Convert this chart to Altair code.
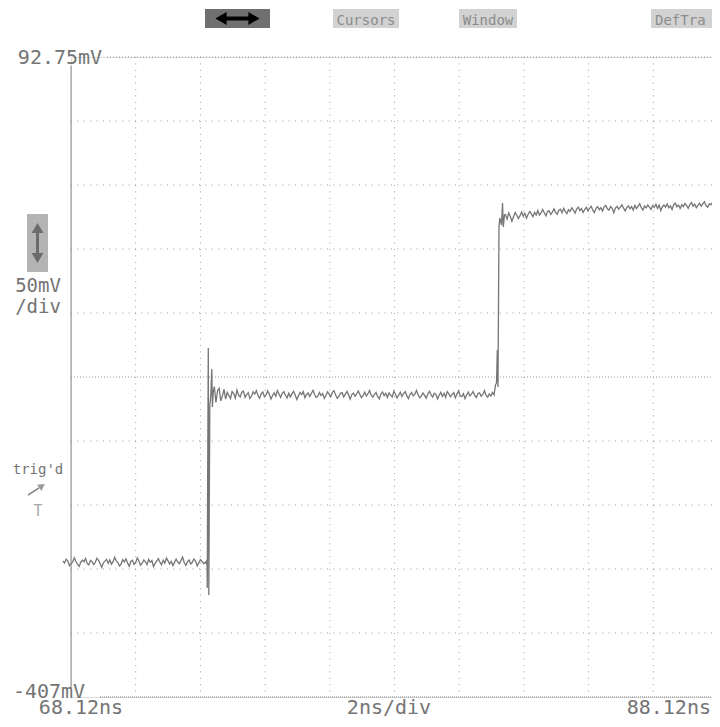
import altair as alt
import numpy as np
import pandas as pd

# ---------------- data ----------------
t_min, t_max = 68.12, 88.12          # ns, screen edges
v_min, v_max = -407.25, 92.75        # mV, screen edges (50 mV/div)
div_times = [70.12, 72.12, 74.12, 76.12, 78.12, 80.12, 82.12, 84.12, 86.12, 88.12]
div_volts = [42.75, -7.25, -57.25, -107.25, -207.25, -257.25, -307.25, -357.25]
center_volt = [-157.25]
top_volt = [92.75]
bottom_volt = [-407.25]

sample_dt = 0.05  # ns

# low level (starts slightly left of the screen edge)
low_t0 = 67.87
low_v = [-301.0, -302.6, -299.5, -300.8, -304.7, -303.1, -301.9, -298.4, -301.2, -303.5,
         -305.2, -302.0, -300.3, -301.7, -299.0, -302.9, -304.1, -300.6, -301.4, -303.8,
         -302.2, -298.9, -300.5, -303.0, -306.0, -302.4, -301.1, -299.7, -302.8, -300.2,
         -303.6, -301.5, -298.1, -300.9, -302.3, -304.9, -303.2, -300.0, -301.8, -299.3,
         -302.5, -305.1, -301.3, -300.4, -303.7, -302.1, -298.6, -301.0, -304.3, -302.7,
         -300.1, -301.6, -303.9, -299.8, -302.0, -300.7, -305.5, -302.9, -301.2, -299.1,
         -301.9, -304.0, -300.3, -302.6, -298.7, -300.9, -303.3, -301.4, -304.6, -302.1,
         -299.6, -301.8, -303.0, -300.5, -297.9, -302.2, -304.4, -301.7, -300.2, -303.4,
         -302.0, -299.4, -301.1, -304.8, -302.5, -300.0, -301.3, -303.1, -301.8]

edge1_t = [72.293, 72.324, 72.333, 72.343, 72.364, 72.380, 72.411, 72.442, 72.472, 72.491, 72.516]
edge1_v = [-302.6, -300.2, -322.1, -243.2, -134.6, -327.6, -179.1, -171.3, -151.0, -180.7, -169.0]

mid_t0 = 72.55
mid_v = [-164.8, -177.2, -168.0, -166.1, -175.9, -172.0, -167.0, -174.6, -169.3, -171.8,
         -174.0, -168.6, -170.2, -173.7, -167.5, -171.4, -172.9, -169.1, -168.3, -173.2,
         -171.0, -169.5, -174.1, -172.3, -168.9, -170.6, -167.9, -171.7, -173.8, -170.3,
         -169.0, -172.6, -171.2, -168.1, -170.8, -174.5, -171.9, -169.6, -172.2, -167.8,
         -170.5, -173.1, -170.0, -168.7, -171.5, -173.6, -169.9, -172.8, -170.4, -168.4,
         -171.3, -174.8, -172.0, -169.3, -170.9, -168.6, -173.4, -171.1, -169.7, -172.5,
         -170.1, -167.6, -171.0, -173.3, -172.1, -169.4, -171.8, -170.2, -174.0, -171.6,
         -168.8, -170.7, -172.7, -169.2, -167.9, -171.4, -173.9, -172.4, -170.0, -169.5,
         -172.9, -170.6, -168.5, -171.2, -174.6, -171.0, -169.8, -172.3, -170.4, -168.2,
         -170.9, -173.5, -171.7, -169.0, -172.1, -170.3, -167.7, -171.5, -173.0, -170.8,
         -169.3, -172.6, -174.3, -170.5, -168.9, -171.9, -170.1, -173.2, -169.6, -171.4,
         -172.8, -168.3, -170.7, -173.7, -171.3, -169.1, -172.4, -170.2, -168.6, -171.8,
         -174.1, -170.9, -169.4, -172.0, -170.6, -167.8, -171.1, -173.4, -172.2, -169.7,
         -171.6, -173.8, -170.3, -168.4, -171.2, -172.9, -169.9, -170.8, -174.4, -171.5,
         -169.2, -172.5, -170.0, -173.1, -168.7, -170.4, -172.7, -171.0, -169.5, -173.6,
         -170.6, -168.1, -171.9, -172.6, -170.2, -174.2, -171.3, -169.0, -172.0, -170.7,
         -168.5, -171.7, -173.3, -170.1, -169.6, -172.3, -170.9, -167.9, -171.4, -173.0,
         -170.5, -172.1, -169.3, -171.2]

edge2_t = [81.211, 81.242, 81.273, 81.298, 81.319, 81.350, 81.375, 81.428, 81.459, 81.483, 81.520]
edge2_v = [-169.0, -163.5, -161.9, -136.2, -165.1, -39.3, -33.0, -38.5, -21.3, -40.1, -30.7]

high_t0 = 81.55
high_v = [-30.4, -33.9, -29.0, -31.8, -35.6, -32.1, -28.7, -30.9, -33.5, -31.2,
          -28.3, -31.6, -29.4, -33.2, -30.1, -27.9, -29.8, -32.0, -28.6, -30.7,
          -27.2, -30.8, -29.1, -26.4, -28.9, -31.4, -28.0, -27.5, -30.2, -28.4,
          -25.9, -28.7, -30.1, -27.0, -26.1, -28.9, -25.4, -27.8, -29.6, -26.6,
          -27.9, -25.1, -26.8, -29.3, -26.0, -24.5, -27.2, -25.8, -28.7, -26.4,
          -24.6, -27.4, -25.3, -23.8, -26.9, -28.8, -25.5, -24.2, -26.6, -25.0,
          -27.6, -24.4, -23.1, -25.8, -26.9, -24.0, -25.5, -29.0, -25.2, -23.9,
          -26.1, -24.6, -22.7, -25.3, -27.4, -24.9, -23.5, -25.9, -24.1, -27.0,
          -23.2, -25.6, -24.0, -21.9, -24.9, -26.8, -23.7, -25.1, -22.8, -24.5,
          -26.3, -23.4, -24.8, -22.3, -25.5, -23.1, -27.2, -24.2, -22.9, -24.7,
          -22.1, -25.0, -23.6, -26.4, -22.8, -21.5, -24.3, -23.0, -25.6, -22.6,
          -24.1, -21.7, -23.3, -25.4, -22.5, -20.9, -23.8, -22.2, -25.0, -23.1,
          -21.4, -23.9, -22.0, -20.4, -23.2, -24.6, -21.8, -22.7, -20.9, -23.5,
          -22.3, -21.0, -23.4]

# text
y_top_label, y_bottom_label = "92.75mV", "-407mV"
x_labels = ["68.12ns", "2ns/div", "88.12ns"]
scale_labels = ["50mV", "/div"]
trig_labels = ["trig'd", "T"]
menu_labels = ["Cursors", "Window", "DefTra"]

# ---------------- assemble trace ----------------
def sampled(t0, vals):
    return list(np.round(t0 + sample_dt * np.arange(len(vals)), 3))

trace = pd.DataFrame({
    "t": sampled(low_t0, low_v) + edge1_t + sampled(mid_t0, mid_v) + edge2_t + sampled(high_t0, high_v),
    "v": low_v + edge1_v + mid_v + edge2_v + high_v,
})

SCREEN_W = 647          # full 10-division screen width in px
W, H = 641, 640         # visible view (page is only 704 px wide inside its margins)
xs = alt.Scale(domain=[t_min, t_max], range=[0, SCREEN_W], zero=False, nice=False)
ys = alt.Scale(domain=[v_min, v_max], zero=False, nice=False)
one = pd.DataFrame({"d": [0]})
FONT = "DejaVu Sans Mono"
TXT = "#747474"
GRID = "#9a9a9a"

def X(f):
    return alt.X(f, type="quantitative", scale=xs, axis=None)

def Y(f):
    return alt.Y(f, type="quantitative", scale=ys, axis=None)

vgrid = alt.Chart(pd.DataFrame({"t": div_times})).mark_rule(
    color=GRID, strokeWidth=1, strokeDash=[1, 5.4]).encode(x=X("t"))
hgrid = alt.Chart(pd.DataFrame({"v": div_volts})).mark_rule(
    color=GRID, strokeWidth=1, strokeDash=[1, 5.4]).encode(y=Y("v"), x=alt.value(0), x2=alt.value(SCREEN_W))
cline = alt.Chart(pd.DataFrame({"v": center_volt})).mark_rule(
    color=GRID, strokeWidth=1, strokeDash=[1, 2]).encode(y=Y("v"), x=alt.value(0), x2=alt.value(SCREEN_W))
tline = alt.Chart(pd.DataFrame({"v": top_volt})).mark_rule(
    color=GRID, strokeWidth=1, strokeDash=[1, 2]).encode(y=Y("v"), x=alt.value(36), x2=alt.value(SCREEN_W))
bline = alt.Chart(pd.DataFrame({"v": bottom_volt})).mark_rule(
    color="#808080", strokeWidth=1, strokeDash=[1, 1]).encode(y=Y("v"), x=alt.value(29), x2=alt.value(SCREEN_W))
laxis = alt.Chart(one).mark_rule(color="#8a8a8a", strokeWidth=1).encode(
    x=alt.value(0), y=alt.value(9), y2=alt.value(631))

wave = alt.Chart(trace).mark_line(color="#767676", strokeWidth=1.3, interpolate="linear").encode(
    x=X("t"), y=Y("v"))

def txt(s, x, y, size=20, color=TXT, align="center"):
    return alt.Chart(one).mark_text(text=s, font=FONT, fontSize=size, color=color,
                                    align=align, baseline="alphabetic").encode(
        x=alt.value(x), y=alt.value(y))

def box(x1, x2, y1, y2, color):
    return alt.Chart(one).mark_rect(color=color).encode(
        x=alt.value(x1), x2=alt.value(x2), y=alt.value(y1), y2=alt.value(y2))

def pt(x, y, shape, size, color, angle=0):
    return alt.Chart(one).mark_point(shape=shape, size=size, filled=True, color=color,
                                     opacity=1, angle=angle).encode(x=alt.value(x), y=alt.value(y))

def seg(x1, y1, x2, y2, color, w):
    return alt.Chart(one).mark_rule(color=color, strokeWidth=w).encode(
        x=alt.value(x1), y=alt.value(y1), x2=alt.value(x2), y2=alt.value(y2))

texts = [
    txt(y_top_label, -11, 7),
    txt(y_bottom_label, -22, 641),
    txt(x_labels[0], 10, 657),
    txt(x_labels[1], 318, 657),
    txt(x_labels[2], 640, 657, align="right"),
    txt(scale_labels[0], -33, 235, size=19),
    txt(scale_labels[1], -33, 256, size=19),
    txt(trig_labels[0], -33, 417, size=14),
    txt(trig_labels[1], -33, 459, size=15, color="#a8a8a8"),
]

menu = [
    box(134, 199, -48, -29, "#707070"),
    seg(148, -38.5, 185, -38.5, "#000000", 4),
    pt(150, -38.5, "triangle-left", 170, "#000000"),
    pt(183, -38.5, "triangle-right", 170, "#000000"),
    box(262, 328, -48, -29, "#d2d2d2"),
    txt(menu_labels[0], 295, -32, size=14, color="#8c8c8c"),
    box(388, 446, -48, -29, "#d2d2d2"),
    txt(menu_labels[1], 417, -32, size=14, color="#8c8c8c"),
    box(580, 660, -48, -29, "#d2d2d2"),
    txt(menu_labels[2], 584, -32, size=14, color="#8c8c8c", align="left"),
]

icons = [
    box(-44, -23, 157, 215, "#b4b4b4"),
    seg(-33.5, 168, -33.5, 204, "#6c6c6c", 3),
    pt(-33.5, 171, "triangle-up", 140, "#6c6c6c"),
    pt(-33.5, 201, "triangle-down", 140, "#6c6c6c"),
    seg(-43, 438, -32, 431, "#8a8a8a", 1.5),
    pt(-29, 429, "triangle-right", 60, "#9a9a9a", angle=325),
]

chart = alt.layer(
    vgrid, hgrid, cline, tline, bline, laxis, wave, *texts, *menu, *icons
).properties(
    width=W, height=H,
    padding={"left": 63, "top": 49, "right": 0, "bottom": 22},
    autosize=alt.AutoSizeParams(type="none"),
).configure_view(stroke=None).configure(background="white")

chart.save("out.html", embed_options={"renderer": "svg", "actions": False})
